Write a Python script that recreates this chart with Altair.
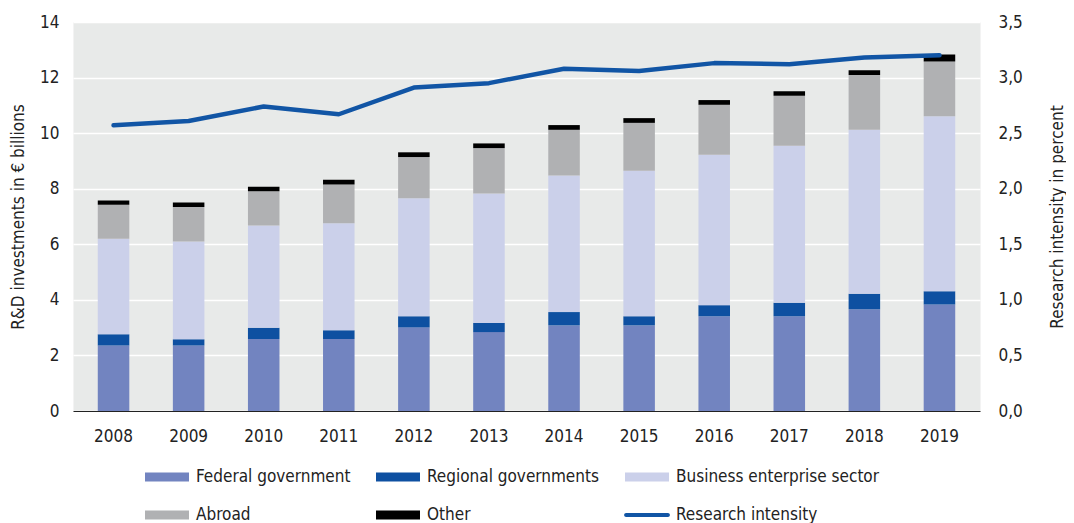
import altair as alt
import pandas as pd

years = ["2008", "2009", "2010", "2011", "2012", "2013", "2014", "2015", "2016", "2017", "2018", "2019"]
federal = [2.36, 2.36, 2.59, 2.59, 3.01, 2.84, 3.08, 3.08, 3.41, 3.41, 3.66, 3.83]
regional = [0.40, 0.22, 0.41, 0.32, 0.40, 0.33, 0.48, 0.33, 0.40, 0.49, 0.56, 0.48]
business = [3.44, 3.52, 3.68, 3.85, 4.25, 4.66, 4.92, 5.24, 5.41, 5.65, 5.90, 6.30]
abroad = [1.22, 1.24, 1.23, 1.39, 1.48, 1.63, 1.64, 1.72, 1.80, 1.80, 1.97, 1.97]
other = [0.16, 0.16, 0.16, 0.17, 0.17, 0.17, 0.17, 0.17, 0.17, 0.16, 0.17, 0.25]
intensity = [2.57, 2.61, 2.74, 2.67, 2.91, 2.95, 3.08, 3.06, 3.13, 3.12, 3.18, 3.20]

series = ["Federal government", "Regional governments", "Business enterprise sector", "Abroad", "Other"]
colors = ["#7284C0", "#0E50A1", "#CBD0EA", "#B0B1B3", "#000000"]
line_name = "Research intensity"
line_color = "#1155A5"

rows = []
for i, yr in enumerate(years):
    for k, (name, vals) in enumerate(zip(series, [federal, regional, business, abroad, other])):
        rows.append({"year": yr, "series": name, "value": vals[i], "order": k})
bars_df = pd.DataFrame(rows)
line_df = pd.DataFrame({"year": years, "intensity": intensity, "series": [line_name] * len(years)})

FONT = "Liberation Sans Narrow, DejaVu Sans Condensed, sans-serif"
TXT = "#222222"
FS = 17

color_scale = alt.Scale(domain=series + [line_name], range=colors + [line_color])

shape_expr = ("datum.value === 'Research intensity' ? "
              "'M-0.95,-0.09L0.95,-0.09A0.09,0.09,0,0,1,0.95,0.09L-0.95,0.09A0.09,0.09,0,0,1,-0.95,-0.09Z' : "
              "'M-1,-0.2H1V0.2H-1Z'")

legend = alt.Legend(
    title=None, orient="none", legendX=72, legendY=433, columns=3, direction="horizontal",
    symbolSize=1936, labelFontSize=FS, labelFont=FONT, labelColor=TXT, labelLimit=400,
    columnPadding=25, rowPadding=8, labelOffset=7, symbolStrokeWidth=0,
    symbolType=alt.ExprRef(shape_expr), symbolOpacity=1,
)

x = alt.X("year:N", title=None,
          axis=alt.Axis(labelAngle=0, ticks=False, tickSize=0, domainColor=TXT, domainWidth=1,
                        labelPadding=17, labelFontSize=FS, labelFont=FONT, labelColor=TXT, grid=False),
          scale=alt.Scale(paddingInner=0.58, paddingOuter=0.33))

bars = alt.Chart(bars_df).mark_bar().encode(
    x=x,
    y=alt.Y("value:Q", stack="zero", scale=alt.Scale(domain=[0, 14]),
            axis=alt.Axis(values=list(range(0, 15, 2)), title="R&D investments in € billions",
                          grid=True, gridColor="white", gridWidth=1.5, ticks=False, tickSize=0,
                          domain=False, labelPadding=14, titlePadding=12,
                          labelFontSize=FS, labelFont=FONT, labelColor=TXT,
                          titleFontSize=FS, titleFont=FONT, titleColor=TXT, titleFontWeight="normal")),
    color=alt.Color("series:N", scale=color_scale, legend=legend),
    order=alt.Order("order:Q"),
)

line = alt.Chart(line_df).mark_line(strokeWidth=4.5, strokeCap="round", strokeJoin="round").encode(
    x=x,
    y=alt.Y("intensity:Q", scale=alt.Scale(domain=[0, 3.5]),
            axis=alt.Axis(orient="right", values=[0, 0.5, 1, 1.5, 2, 2.5, 3, 3.5],
                          labelExpr="replace(format(datum.value, '.1f'), '.', ',')",
                          grid=False, ticks=False, tickSize=0, domain=False,
                          title="Research intensity in percent", titleAngle=270,
                          labelPadding=18, titlePadding=44,
                          labelFontSize=FS, labelFont=FONT, labelColor=TXT,
                          titleFontSize=FS, titleFont=FONT, titleColor=TXT, titleFontWeight="normal")),
    color=alt.Color("series:N", scale=color_scale, legend=legend),
)

chart = (
    alt.layer(bars, line)
    .resolve_scale(y="independent")
    .properties(
        width=907, height=389, background="white",
        padding={"left": 65, "top": 14, "right": 86, "bottom": 113},
        autosize=alt.AutoSizeParams(type="none"),
    )
    .configure_view(fill="#E8EAE9", stroke="#F3F3F3")
)

chart.save("out.html", embed_options={"renderer": "svg", "actions": False})
